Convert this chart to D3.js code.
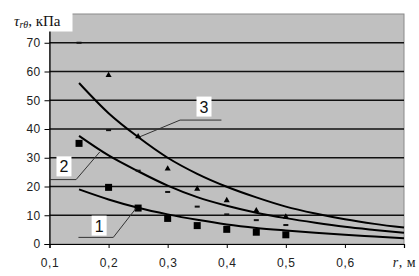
<!DOCTYPE html>
<html>
<head>
<meta charset="utf-8">
<script src="https://cdn.jsdelivr.net/npm/d3@7"></script>
<style>
  body { margin: 0; background: #fff; }
  svg { display: block; }
</style>
</head>
<body>
<div id="chart"></div>
<script>
let w = 419;
let h = 276;

// measured points (r, м)
let pointR = [0.15, 0.2, 0.25, 0.3, 0.35, 0.4, 0.45, 0.5];
let squares = [35, 19.7, 12.5, 8.9, 6.4, 5.1, 4.1, 3.2];
let dashes = [70, 39.6, 25.5, 18.1, 13, 10.3, 8.3, 6.6];
let triangles = [null, 58.5, 37.2, 26, 19, 15, 11.5, 9.3];

// fitted curves
let curveR = [0.15, 0.2, 0.25, 0.3, 0.35, 0.4, 0.45, 0.5, 0.55, 0.6, 0.65, 0.7];
let curve1 = [19, 15.5, 12.6, 10.3, 8.4, 6.8, 5.6, 4.7, 3.9, 3.2, 2.6, 2.0];
let curve2 = [37.6, 30.8, 25.3, 20.3, 16.3, 13.3, 10.9, 9, 7.4, 6, 4.9, 3.9];
let curve3 = [56, 45.5, 37.2, 30, 24.4, 19.9, 16.2, 13, 10.6, 8.6, 7, 5.7];

let xTicks = [0.1, 0.2, 0.3, 0.4, 0.5, 0.6, 0.7];
let xTickLabels = ["0,1", "0,2", "0,3", "0,4", "0,5", "0,6", ""];
let yTicks = [0, 10, 20, 30, 40, 50, 60, 70];

// curve labels: name, box center, leader path (data units)
let labelNames = ["1", "2", "3"];
let labelCenters = [[0.184, 6.4], [0.1245, 27], [0.3615, 47.8]];
let leaders = [
  [[0.149, 2.3], [0.208, 2.3], [0.246, 12.3]],
  [[0.1, 22.4], [0.145, 22.4], [0.185, 32]],
  [[0.391, 43.1], [0.321, 43.1], [0.253, 37.3]]
];

let svg = d3.select("#chart").append("svg")
  .attr("width", w)
  .attr("height", h);

let xScale = d3.scaleLinear().domain([0.1, 0.7]).range([49.5, 404]);
let yScale = d3.scaleLinear().domain([0, 80]).range([244, 14]);

// plot background
svg.append("rect")
  .attr("x", xScale(0.1))
  .attr("y", yScale(80))
  .attr("width", xScale(0.7) - xScale(0.1))
  .attr("height", yScale(0) - yScale(80))
  .attr("fill", "#c0c0c0")
  .attr("stroke", "#8a8a8a")
  .attr("stroke-width", 1);

// gridlines
svg.append("g").selectAll("line").data(yTicks.filter(d => d > 0)).enter()
  .append("line")
    .attr("x1", xScale(0.1))
    .attr("x2", xScale(0.7))
    .attr("y1", d => yScale(d))
    .attr("y2", d => yScale(d))
    .attr("stroke", "#111")
    .attr("stroke-width", 1.6);

// axes
let tickFont = "Liberation Sans, Arial, sans-serif";
let yAxis = d3.axisLeft(yScale).tickValues(yTicks).tickSize(5).tickPadding(4).tickFormat(d3.format("d"));
let yAxisGroup = svg.append("g")
  .attr("transform", "translate(" + xScale(0.1) + ",0)")
  .call(yAxis);
yAxisGroup.select(".domain").attr("stroke", "#000").attr("stroke-width", 1.2);
yAxisGroup.selectAll("line").attr("stroke", "#000");
yAxisGroup.selectAll("text")
  .style("font-family", tickFont)
  .style("font-size", "12px")
  .style("letter-spacing", "0.3px")
  .attr("fill", "#222");

let xAxis = d3.axisBottom(xScale).tickValues(xTicks).tickSize(4).tickPadding(10)
  .tickFormat((d, i) => xTickLabels[i]);
let xAxisGroup = svg.append("g")
  .attr("transform", "translate(0," + yScale(0) + ")")
  .call(xAxis);
xAxisGroup.select(".domain").attr("stroke", "#000").attr("stroke-width", 1.2);
xAxisGroup.selectAll("line").attr("stroke", "#000");
xAxisGroup.selectAll("text")
  .style("font-family", tickFont)
  .style("font-size", "12px")
  .style("letter-spacing", "0.6px")
  .attr("fill", "#222");

// curves
let lineMaker = d3.line()
  .x((d, i) => xScale(curveR[i]))
  .y(d => yScale(d))
  .curve(d3.curveMonotoneX);

svg.append("g").selectAll("path").data([curve1, curve2, curve3]).enter()
  .append("path")
    .attr("d", d => lineMaker(d))
    .attr("fill", "none")
    .attr("stroke", "#000")
    .attr("stroke-width", 2);

// markers
svg.append("g").selectAll("rect").data(squares).enter()
  .append("rect")
    .attr("x", (d, i) => xScale(pointR[i]) - 3.5)
    .attr("y", d => yScale(d) - 3.5)
    .attr("width", 7)
    .attr("height", 7)
    .attr("fill", "#000");

svg.append("g").selectAll("rect").data(dashes).enter()
  .append("rect")
    .attr("x", (d, i) => xScale(pointR[i]) - 2.5)
    .attr("y", d => yScale(d) - 1)
    .attr("width", 5)
    .attr("height", 2)
    .attr("fill", "#111");

let triData = triangles.map((d, i) => ({r: pointR[i], v: d})).filter(d => d.v != null);
svg.append("g").selectAll("path").data(triData).enter()
  .append("path")
    .attr("d", d3.symbol().type(d3.symbolTriangle).size(16))
    .attr("transform", d => "translate(" + xScale(d.r) + "," + (yScale(d.v) - 0.5) + ")")
    .attr("fill", "#000");

// curve number labels
svg.append("g").selectAll("path").data(leaders).enter()
  .append("path")
    .attr("d", d => d3.line().x(p => xScale(p[0])).y(p => yScale(p[1]))(d))
    .attr("fill", "none")
    .attr("stroke", "#333")
    .attr("stroke-width", 1);

let labelGroups = svg.append("g").selectAll("g").data(labelNames).enter()
  .append("g")
    .attr("transform", (d, i) => "translate(" + xScale(labelCenters[i][0]) + "," + yScale(labelCenters[i][1]) + ")");
labelGroups.append("rect")
  .attr("x", -7.5)
  .attr("y", -10)
  .attr("width", 15)
  .attr("height", 20)
  .attr("fill", "#fff");
labelGroups.append("text")
  .attr("text-anchor", "middle")
  .attr("y", 6)
  .style("font-family", tickFont)
  .style("font-size", "16px")
  .attr("fill", "#111")
  .text(d => d);

// y axis title
svg.append("rect")
  .attr("x", 0).attr("y", 0)
  .attr("width", 72.5).attr("height", 31.5)
  .attr("fill", "#fff");
let yTitle = svg.append("text")
  .attr("x", 14)
  .attr("y", 26)
  .style("font-family", "Liberation Serif, Times New Roman, serif")
  .style("font-size", "15px")
  .attr("fill", "#111");
yTitle.append("tspan").style("font-style", "italic").text("τ");
yTitle.append("tspan").style("font-style", "italic").style("font-size", "10px").attr("dy", 2).text("rθ");
yTitle.append("tspan").attr("dy", -2).text(", кПа");

// x axis title
let xTitle = svg.append("text")
  .attr("x", 416)
  .attr("y", 267)
  .attr("text-anchor", "end")
  .style("font-family", "Liberation Serif, Times New Roman, serif")
  .style("font-size", "14px")
  .style("letter-spacing", "0.5px")
  .attr("fill", "#222");
xTitle.append("tspan").style("font-style", "italic").text("r");
xTitle.append("tspan").text(", м");
</script>
</body>
</html>
